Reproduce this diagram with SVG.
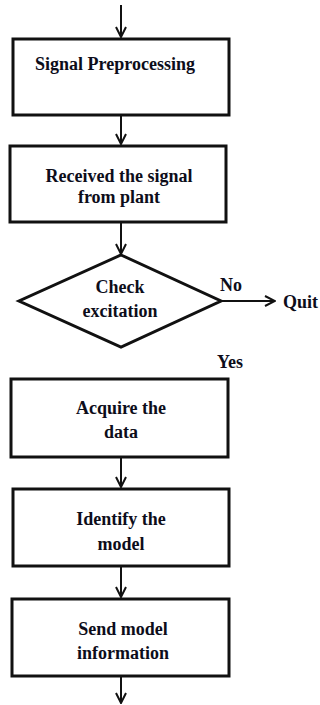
<svg xmlns="http://www.w3.org/2000/svg" width="320" height="705" viewBox="0 0 320 705">
<defs>
<marker id="ah" viewBox="0 0 12 12" refX="11" refY="6" markerWidth="12" markerHeight="12" markerUnits="userSpaceOnUse" orient="auto">
<path d="M1,1 L11,6 L1,11" fill="none" stroke="#111" stroke-width="2"/>
</marker>
<style>
.box{fill:#fff;stroke:#111;stroke-width:3}
.t{font-family:"Liberation Serif","Times New Roman",serif;font-weight:bold;font-size:18px;fill:#0d0d1a;text-anchor:middle}
.l{font-family:"Liberation Serif","Times New Roman",serif;font-weight:bold;font-size:18px;fill:#0d0d1a}
.c{stroke:#111;stroke-width:2;fill:none;marker-end:url(#ah)}
</style>
</defs>
<rect width="320" height="705" fill="#fff"/>
<g id="connectors">
<line class="c" x1="121" y1="5" x2="121" y2="37"/>
<line class="c" x1="121" y1="116" x2="121" y2="144"/>
<line class="c" x1="121" y1="223" x2="121" y2="254"/>
<line class="c" x1="222" y1="301" x2="275" y2="301"/>
<line class="c" x1="121" y1="458" x2="121" y2="487"/>
<line class="c" x1="121" y1="567" x2="121" y2="597"/>
<line class="c" x1="121" y1="677" x2="121" y2="703"/>
</g>
<g id="n1"><rect class="box" x="13" y="39" width="216" height="76"/><text class="t" x="115" y="70">Signal Preprocessing</text></g>
<g id="n2"><rect class="box" x="10" y="146" width="216" height="76"/><text class="t" x="119" y="182">Received the signal</text><text class="t" x="119" y="203">from plant</text></g>
<g id="n3"><polygon points="121,255 221,301 121,347 19,301" fill="#fff" stroke="#111" stroke-width="3"/><text class="t" x="120" y="293">Check</text><text class="t" x="120" y="317">excitation</text></g>
<g id="lbl-no"><text class="l" x="220" y="291">No</text></g>
<g id="n-quit"><text class="l" x="283" y="308">Quit</text></g>
<g id="lbl-yes"><text class="l" x="217" y="368">Yes</text></g>
<g id="n4"><rect class="box" x="11" y="379" width="217" height="78"/><text class="t" x="121" y="414">Acquire the</text><text class="t" x="121" y="438">data</text></g>
<g id="n5"><rect class="box" x="13" y="489" width="216" height="77"/><text class="t" x="121" y="525">Identify the</text><text class="t" x="121" y="550">model</text></g>
<g id="n6"><rect class="box" x="12" y="599" width="217" height="77"/><text class="t" x="123" y="635">Send model</text><text class="t" x="123" y="659">information</text></g>
</svg>
